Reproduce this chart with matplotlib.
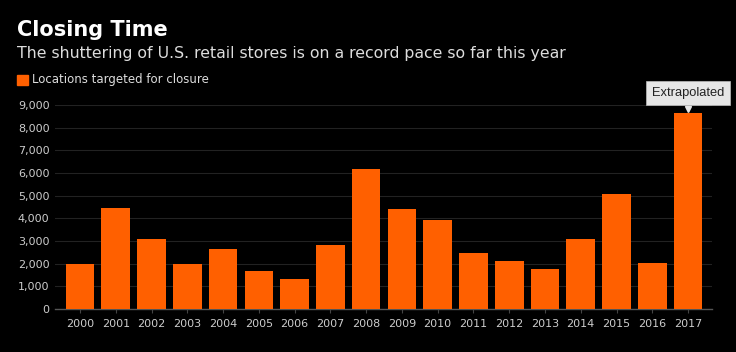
import matplotlib
matplotlib.use("Agg")
import matplotlib.pyplot as plt
import matplotlib.transforms as mtransforms
from matplotlib.ticker import FuncFormatter

# Store closures per year (2017 is extrapolated)
years = ['2000', '2001', '2002', '2003', '2004', '2005', '2006', '2007', '2008',
         '2009', '2010', '2011', '2012', '2013', '2014', '2015', '2016', '2017']
closures = [1970, 4450, 3070, 1990, 2640, 1690, 1340, 2810, 6175,
            4425, 3910, 2455, 2120, 1765, 3075, 5070, 2040, 8640]
y_ticks = [0, 1000, 2000, 3000, 4000, 5000, 6000, 7000, 8000, 9000]

orange = '#ff6000'
bg = '#000000'

fig = plt.figure(figsize=(7.36, 3.52), dpi=100, facecolor=bg)
ax = fig.add_axes([55 / 736, 43 / 352, (712 - 55) / 736, (309 - 105) / 352])
ax.set_facecolor(bg)

x = list(range(len(years)))
ax.bar(x, closures, width=0.8, color=orange, zorder=3)

ax.set_xlim(-0.7, len(years) - 1 + 0.67)
ax.set_ylim(0, 9000)
ax.set_yticks(y_ticks)
ax.yaxis.set_major_formatter(FuncFormatter(lambda v, p: f'{int(v):,}'))
ax.set_xticks(x)
ax.set_xticklabels(years)

# grid and spines
ax.grid(axis='y', color='#222222', linewidth=0.8, zorder=0)
for s in ['top', 'right', 'left']:
    ax.spines[s].set_visible(False)
ax.spines['bottom'].set_color('#555555')
ax.spines['bottom'].set_linewidth(1)
ax.tick_params(axis='y', length=0, pad=4, labelcolor='#cccccc', labelsize=8)
ax.tick_params(axis='x', length=3, color='#444444', pad=4, labelcolor='#cccccc', labelsize=8)

# extrapolated callout
last = len(years) - 1
ax.annotate('Extrapolated', xy=(last, closures[last]), xytext=(0, 14.5),
            textcoords='offset points', ha='center', va='center',
            fontsize=9.3, family='Liberation Sans', color='#222222',
            bbox=dict(boxstyle='square,pad=0.45', fc='#e6e6e6', ec='#bbbbbb', lw=0.5),
            annotation_clip=False, zorder=5)
tri = mtransforms.offset_copy(ax.transData, fig=fig, x=0, y=3.2, units='points')
ax.plot([last], [closures[last]], marker='v', markersize=4.5, color='#e6e6e6',
        transform=tri, clip_on=False, zorder=6)

# titles and legend
fig.text(17 / 736, 1 - 36 / 352, 'Closing Time', color='white', fontsize=15,
         fontweight='bold', ha='left', va='baseline')
fig.text(17 / 736, 1 - 58 / 352,
         'The shuttering of U.S. retail stores is on a record pace so far this year',
         color='#dddddd', fontsize=11.35, ha='left', va='baseline')
fig.patches.append(plt.Rectangle((17 / 736, 1 - 85 / 352), 11 / 736, 10 / 352,
                                 transform=fig.transFigure, color=orange))
fig.text(32 / 736, 1 - 80 / 352, 'Locations targeted for closure', color='#dddddd',
         fontsize=8.45, ha='left', va='center')

fig.savefig('out.png', dpi=100, facecolor=bg)
